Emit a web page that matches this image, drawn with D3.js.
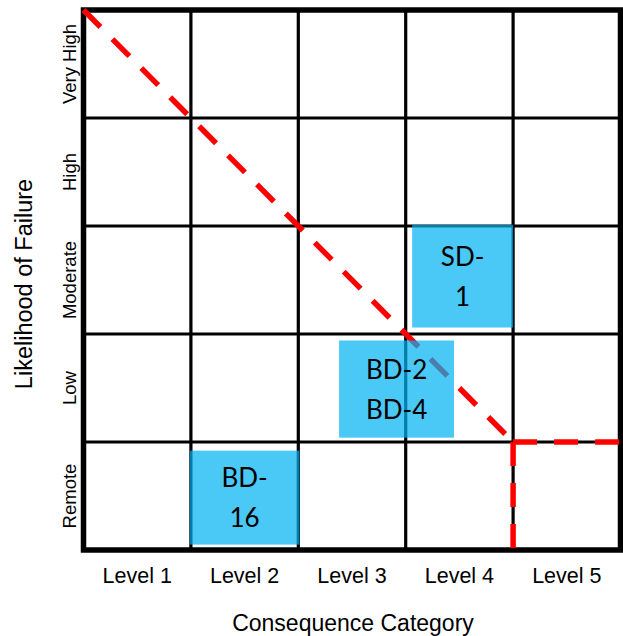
<!DOCTYPE html>
<html>
<head>
<meta charset="utf-8">
<script src="https://cdn.jsdelivr.net/npm/d3@7"></script>
<style>
  html, body { margin: 0; padding: 0; background: #fff; }
  svg { display: block; }
</style>
</head>
<body>
<div id="chart"></div>
<script>
// ---- data ----
const consequenceLevels = ["Level 1", "Level 2", "Level 3", "Level 4", "Level 5"];
const likelihoodLevels = ["Remote", "Low", "Moderate", "High", "Very High"]; // bottom -> top
const xTitle = "Consequence Category";
const yTitle = "Likelihood of Failure";

// risk items (boxes), in category units (0..5 along each axis)
const itemLabels = [["SD-", "1"], ["BD-2", "BD-4"], ["BD-", "16"]];
const itemX0 = [3.06, 2.38, 0.99];
const itemX1 = [4.00, 3.45, 2.01];
const itemY0 = [2.06, 1.04, 0.05];
const itemY1 = [3.01, 1.94, 0.92];

// risk threshold (dashed red) : diagonal + corner lines
const diagX = [0, 4];
const diagY = [5, 1];
const cornerHX = [4, 5];
const cornerHY = [1, 1];
const cornerVX = [4, 4];
const cornerVY = [1, 0];

// ---- layout ----
const W = 623, H = 636;
const mLeft = 83.5, mRight = 620.5, mTop = 10, mBottom = 550;

const svg = d3.select("#chart").append("svg").attr("width", W).attr("height", H);

const x = d3.scaleLinear().domain([0, consequenceLevels.length]).range([mLeft, mRight]);
const y = d3.scaleLinear().domain([0, likelihoodLevels.length]).range([mBottom, mTop]);
const xb = d3.scaleBand().domain(consequenceLevels).range([mLeft, mRight]);
const yb = d3.scaleBand().domain(likelihoodLevels).range([mBottom, mTop]);

// grid: inner lines
const g = svg.append("g");
g.selectAll("line.v").data(d3.range(1, consequenceLevels.length)).join("line")
  .attr("x1", d => x(d)).attr("x2", d => x(d)).attr("y1", mTop).attr("y2", mBottom)
  .attr("stroke", "#000").attr("stroke-width", 3.2);
g.selectAll("line.h").data(d3.range(1, likelihoodLevels.length)).join("line")
  .attr("y1", d => y(d)).attr("y2", d => y(d)).attr("x1", mLeft).attr("x2", mRight)
  .attr("stroke", "#000").attr("stroke-width", 3.2);
// outer frame
g.append("rect").attr("x", x(0)).attr("y", y(5)).attr("width", x(5) - x(0)).attr("height", y(0) - y(5))
  .attr("fill", "none").attr("stroke", "#000").attr("stroke-width", 5.5);

// dashed red threshold
const line = d3.line().x(d => x(d[0])).y(d => y(d[1]));
const dashStyle = sel => sel.attr("fill", "none").attr("stroke", "#ff0000")
  .attr("stroke-width", 5.5).attr("stroke-dasharray", "24 17");
svg.append("path").attr("d", line(d3.zip(diagX, diagY))).call(dashStyle);
svg.append("path").attr("d", line(d3.zip(cornerHX, cornerHY))).call(dashStyle);
svg.append("path").attr("d", line(d3.zip(cornerVX, cornerVY))).call(dashStyle);

// items
const items = itemLabels.map((lab, i) => ({ lab, x0: itemX0[i], x1: itemX1[i], y0: itemY0[i], y1: itemY1[i] }));
const ig = svg.selectAll("g.item").data(items).join("g").attr("class", "item");
ig.append("rect")
  .attr("x", d => x(d.x0)).attr("y", d => y(d.y1))
  .attr("width", d => x(d.x1) - x(d.x0)).attr("height", d => y(d.y0) - y(d.y1))
  .attr("fill", "rgb(0,178,243)").attr("fill-opacity", 0.71);
ig.each(function (d) {
  const cx = (x(d.x0) + x(d.x1)) / 2;
  const cy = (y(d.y0) + y(d.y1)) / 2;
  d3.select(this).selectAll("text").data(d.lab).join("text")
    .attr("x", cx)
    .attr("y", (t, j) => cy + (j - (d.lab.length - 1) / 2) * 40 + 9.5)
    .attr("text-anchor", "middle")
    .attr("font-family", "Lato, 'Open Sans', sans-serif")
    .attr("font-size", 26)
    .attr("fill", "#000")
    .text(t => t);
});

// x tick labels
svg.selectAll("text.xt").data(consequenceLevels).join("text")
  .attr("class", "xt")
  .attr("x", d => xb(d) + xb.bandwidth() / 2)
  .attr("y", 583)
  .attr("text-anchor", "middle")
  .attr("font-family", "'Liberation Sans', Arial, sans-serif")
  .attr("font-size", 21.5)
  .attr("fill", "#000")
  .text(d => d);

// y tick labels (rotated)
svg.selectAll("text.yt").data(likelihoodLevels).join("text")
  .attr("class", "yt")
  .attr("transform", d => `translate(76,${yb(d) + yb.bandwidth() / 2}) rotate(-90)`)
  .attr("text-anchor", "middle")
  .attr("font-family", "'Liberation Sans', Arial, sans-serif")
  .attr("font-size", 18.5)
  .attr("fill", "#000")
  .text(d => d);

// axis titles
svg.append("text")
  .attr("x", (mLeft + mRight) / 2 + 1)
  .attr("y", 631)
  .attr("text-anchor", "middle")
  .attr("font-family", "'Liberation Sans', Arial, sans-serif")
  .attr("font-size", 23)
  .attr("fill", "#000")
  .text(xTitle);

svg.append("text")
  .attr("transform", `translate(32,284) rotate(-90)`)
  .attr("text-anchor", "middle")
  .attr("font-family", "'Liberation Sans', Arial, sans-serif")
  .attr("font-size", 23.5)
  .attr("fill", "#000")
  .text(yTitle);
</script>
</body>
</html>
